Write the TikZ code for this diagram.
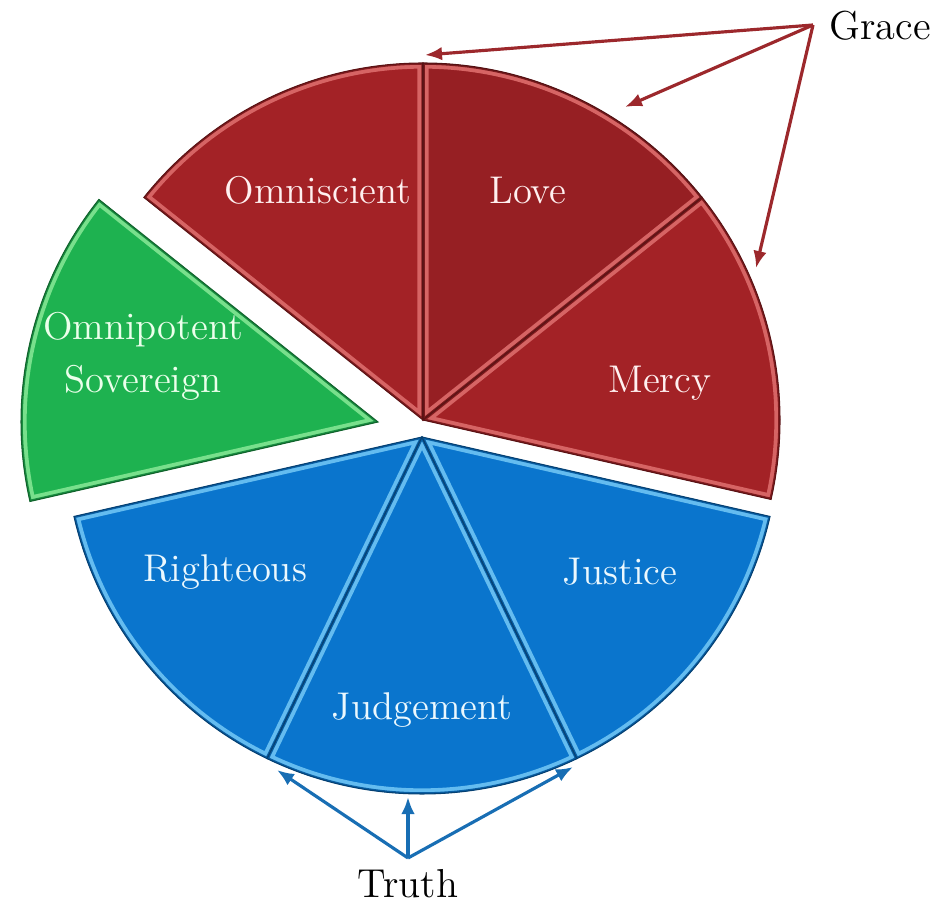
\documentclass[tikz,border=0pt]{standalone}
\usepackage{tikz}
\usetikzlibrary{calc,positioning,arrows.meta}

\definecolor{piered}{RGB}{163,34,38}
\definecolor{pieredhi}{RGB}{214,100,100}
\definecolor{pieblue}{RGB}{10,117,205}
\definecolor{piebluehi}{RGB}{100,188,240}
\definecolor{piegreen}{RGB}{30,178,80}
\definecolor{piegreenhi}{RGB}{120,224,140}
\definecolor{gracered}{RGB}{156,40,44}
\definecolor{truthblue}{RGB}{24,110,180}

% one bevelled wedge: centre, start angle, end angle, fill, highlight
\newcommand{\slicepart}[5]{%
  \begin{scope}
    \clip (#1) -- ++(#2:3.57) arc[start angle=#2, end angle=#3, radius=3.57] -- cycle;
    \fill[#4] (#1) -- ++(#2:3.57) arc[start angle=#2, end angle=#3, radius=3.57] -- cycle;
    \draw[#5, line width=3.2pt, line join=round] (#1) -- ++(#2:3.57) arc[start angle=#2, end angle=#3, radius=3.57] -- cycle;
    \draw[#4!80!black, line width=1pt, line join=round] (#1) -- ++(#2:3.57) arc[start angle=#2, end angle=#3, radius=3.57] -- cycle;
  \end{scope}
  \draw[#4!55!black, line width=0.3pt] (#1) -- ++(#2:3.57) arc[start angle=#2, end angle=#3, radius=3.57] -- cycle;
}

\begin{document}
\begin{tikzpicture}[
            lbl/.style={align=center,font=\fontsize{11}{15}\selectfont},
            outer/.style={text=black,inner sep=1pt,font=\fontsize{11.5}{14}\selectfont},
            gracearrow/.style={draw=gracered,line width=0.9pt,-{Latex[length=1.7mm,width=1.35mm]}},
            trutharrow/.style={draw=truthblue,line width=0.9pt,-{Latex[length=1.7mm,width=1.35mm]}}
        ]
            \useasboundingbox (0,0) rectangle (9.48,9.03);
            \coordinate (redc)   at (4.23,4.83);
            \coordinate (bluec)  at (4.22,4.66);
            \coordinate (greenc) at (3.78,4.81);
            % red group
            \slicepart{redc}{90}{141.43}{piered}{pieredhi}
            \slicepart{redc}{38.57}{90}{piered!92!black}{pieredhi}
            \slicepart{redc}{-12.86}{38.57}{piered}{pieredhi}
            % green
            \slicepart{greenc}{141.43}{192.86}{piegreen}{piegreenhi}
            % blue group
            \slicepart{bluec}{192.86}{244.29}{pieblue}{piebluehi}
            \slicepart{bluec}{244.29}{295.71}{pieblue}{piebluehi}
            \slicepart{bluec}{295.71}{347.14}{pieblue}{piebluehi}
            % labels
            \node (omniscient) [lbl,text=red!6!white]   at (3.18,7.13) {Omniscient};
            \node (love)       [lbl,text=red!6!white]   at (5.28,7.13) {Love};
            \node (mercy)      [lbl,text=red!6!white]   at (6.60,5.20) {Mercy};
            \node (omnipotent) [lbl,text=green!8!white] at (1.43,5.47) {Omnipotent\\Sovereign};
            \node (righteous)  [lbl,text=cyan!8!white]  at (2.25,3.31) {Righteous};
            \node (justice)    [lbl,text=cyan!8!white]  at (6.20,3.31) {Justice};
            \node (judgement)  [lbl,text=cyan!8!white]  at (4.22,1.93) {Judgement};
            % grace
            \node (grace) [outer] at (8.80,8.77) {Grace};
            \coordinate (gfork) at (8.13,8.78);
            \coordinate (gtop)  at (4.25,8.48);
            \coordinate (glove) at (6.25,7.96);
            \coordinate (gmerc) at (7.56,6.35);
            \draw[gracearrow] (gfork) -- (gtop);
            \draw[gracearrow] (gfork) -- (glove);
            \draw[gracearrow] (gfork) -- (gmerc);
            % truth
            \node (truth) [outer] at (4.08,0.19) {Truth};
            \coordinate (tfork)  at (4.08,0.45);
            \coordinate (tleft)  at (2.77,1.33);
            \coordinate (tup)    at (4.08,1.06);
            \coordinate (tright) at (5.73,1.36);
            \draw[trutharrow] (tfork) -- (tleft);
            \draw[trutharrow] (tfork) -- (tup);
            \draw[trutharrow] (tfork) -- (tright);
        \end{tikzpicture}
\end{document}
